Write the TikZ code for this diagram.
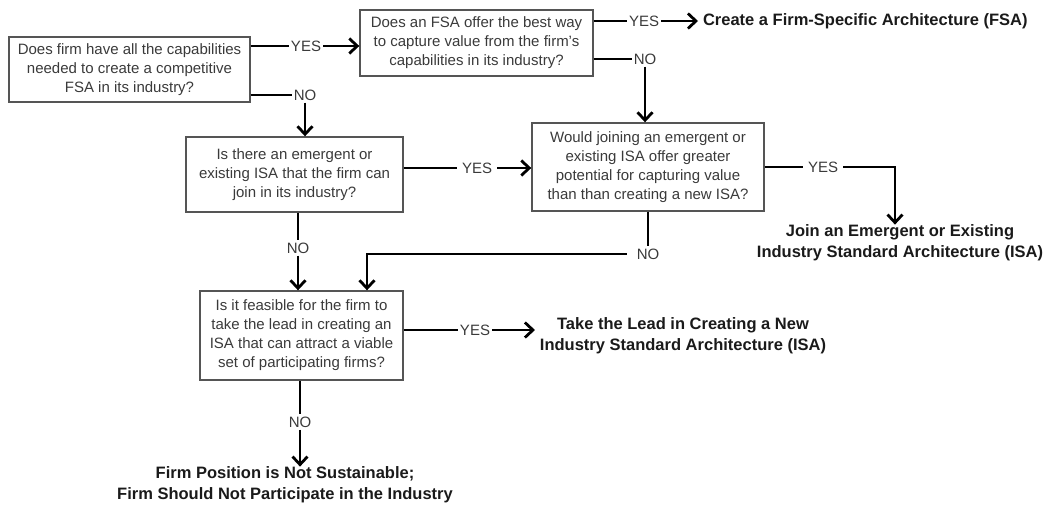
\documentclass[tikz,border=0pt]{standalone}
\usepackage{fontspec}
\setmainfont{Liberation Sans}
\usetikzlibrary{arrows.meta}

\definecolor{boxgray}{HTML}{555555}
\definecolor{textgray}{HTML}{3A3A3A}
\definecolor{boldgray}{HTML}{1A1A1A}

\tikzset{
  question/.style={draw=boxgray, line width=1.4pt, align=center, inner sep=0pt,
    text=textgray, font=\fontsize{15}{19}\selectfont},
  answer/.style={inner xsep=2pt, inner ysep=2pt, text=textgray,
    font=\fontsize{15}{18}\selectfont},
  outcome/.style={align=center, inner sep=0pt, outer xsep=5pt, text=boldgray,
    font=\bfseries\fontsize{16.5}{21}\selectfont},
  flow/.style={line width=2.8pt, black},
  flowarrow/.style={flow, -{Straight Barb[length=8pt,width=15pt]}}
}

\begin{document}
\begin{tikzpicture}[x=1pt,y=-1pt]
  \useasboundingbox (0,0) rectangle (1054,517);

  \coordinate (J) at (367,256);

  % Questions
  \node[question, minimum width=241pt, minimum height=65pt] (Q1) at (129.5,69.5)
    {Does firm have all the capabilities\\needed to create a competitive\\FSA in its industry?};
  \node[question, minimum width=233pt, minimum height=66pt] (Q2) at (476.5,43)
    {Does an FSA offer the best way\\to capture value from the firm's\\capabilities in its industry?};
  \node[question, minimum width=217pt, minimum height=75pt] (Q3) at (294.5,174.5)
    {Is there an emergent or\\existing ISA that the firm can\\join in its industry?};
  \node[question, minimum width=232pt, minimum height=88pt] (Q4) at (648,167)
    {Would joining an emergent or\\existing ISA offer greater\\potential for capturing value\\than than creating a new ISA?};
  \node[question, minimum width=203pt, minimum height=89pt] (Q5) at (301.5,335.5)
    {Is it feasible for the firm to\\take the lead in creating an\\ISA that can attract a viable\\set of participating firms?};

  % Outcomes
  \node[outcome, anchor=west] (R1) at (698,21) {Create a Firm-Specific Architecture (FSA)};
  \node[outcome] (R2) at (900,243) {Join an Emergent or Existing\\Industry Standard Architecture (ISA)};
  \node[outcome] (R3) at (683,336) {Take the Lead in Creating a New\\Industry Standard Architecture (ISA)};
  \node[outcome] (R4) at (285,485) {Firm Position is Not Sustainable;\\Firm Should Not Participate in the Industry};

  % Answers
  \node[answer] (Y1) at (306,46) {YES};
  \node[answer] (N1) at (305,95) {NO};
  \node[answer] (Y2) at (644,21) {YES};
  \node[answer] (N2) at (645,59) {NO};
  \node[answer, inner xsep=5pt] (Y3) at (477,168) {YES};
  \node[answer] (N3) at (298,248) {NO};
  \node[answer, inner xsep=5pt] (Y4) at (823,167) {YES};
  \node[answer, inner xsep=10pt] (N4) at (648,254) {NO};
  \node[answer] (Y5) at (475,330) {YES};
  \node[answer] (N5) at (300,422) {NO};

  % Draw flow
  \draw[flow] (Q1.east |- Y1) -- (Y1.west);
  \draw[flowarrow] (Y1.east) -- (Q2.west |- Y1);
  \draw[flow] (Q1.east |- N1) -- (N1.west);
  \draw[flowarrow] (N1.south) -- (N1.south |- Q3.north);

  \draw[flow] (Q2.east |- Y2) -- (Y2.west);
  \draw[flowarrow] (Y2.east) -- (R1.west);
  \draw[flow] (Q2.east |- N2) -- (N2.west);
  \draw[flowarrow] (N2.south) -- (N2.south |- Q4.north);

  \draw[flow] (Q3.east |- Y3) -- (Y3.west);
  \draw[flowarrow] (Y3.east) -- (Q4.west |- Y3);
  \draw[flow] (Q3.south -| N3) -- (N3.north);
  \draw[flowarrow] (N3.south) -- (Q5.north -| N3);

  \draw[flow] (Q4.east |- Y4) -- (Y4.west);
  \draw[flowarrow] (Y4.east) -| ([xshift=-5pt]R2.north);
  \draw[flow] (Q4.south -| N4) -- (N4.north);
  \draw[flowarrow] (N4.west) -| (Q5.north -| J);

  \draw[flow] (Q5.east |- Y5) -- (Y5.west);
  \draw[flowarrow] (Y5.east) -- (R3.west |- Y5);
  \draw[flow] (Q5.south -| N5) -- (N5.north);
  \draw[flowarrow] (N5.south) -- (R4.north -| N5);

\end{tikzpicture}
\end{document}
